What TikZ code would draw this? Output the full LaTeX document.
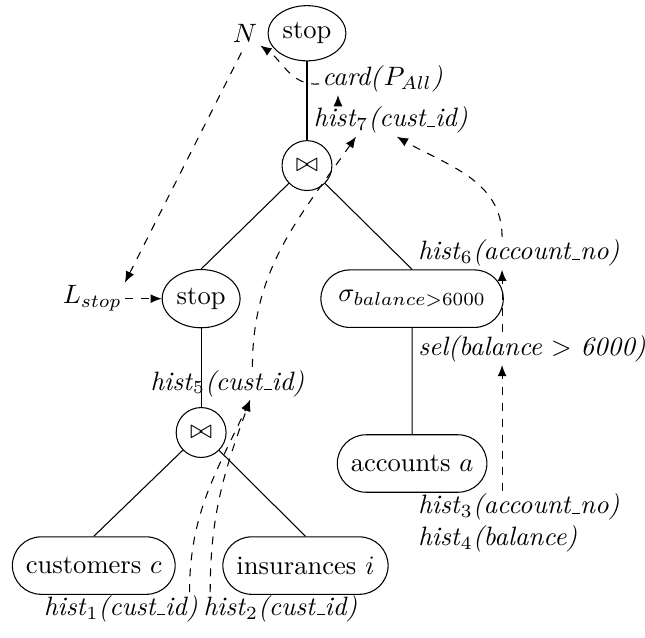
\documentclass[tikz,border=0pt]{standalone}
\usepackage{amsmath,amssymb}
\usetikzlibrary{shapes,arrows,arrows.meta,positioning,calc}
\newcommand{\uscore}{\kern.06em\vbox{\hrule width.3em}}

\begin{document}
\begin{tikzpicture}[
    op/.style={draw=black, ellipse, minimum width=1.03cm, minimum height=0.73cm, inner sep=1pt},
    joinop/.style={draw=black, circle, minimum size=0.66cm, inner sep=0pt},
    rel/.style={draw=black, rounded rectangle, minimum height=0.76cm, inner xsep=4.6pt},
    stat/.style={inner sep=1pt, anchor=west},
    flow/.style={draw=black, dashed, ->, >={Latex[length=4.2pt,width=3.4pt]}}
]
\useasboundingbox (0,0) rectangle (8.53,8.43);

\node[op] (stop) at (4.06,7.99) {stop};
\node[inner sep=1pt] (N) at (3.24,7.99) {$N$};
\node[joinop] (join) at (4.06,6.24) {$\bowtie$};
\node[op, minimum height=0.77cm] (stopl) at (2.66,4.48) {stop};
\node[rel, inner xsep=6.1pt] (sigma) at (5.45,4.48) {$\sigma_{balance>6000}$};
\node[inner sep=1pt] (Lstop) at (1.22,4.48) {$L_{stop}$};
\node[joinop] (joinl) at (2.66,2.71) {$\bowtie$};
\node[rel] (acc) at (5.45,2.30) {accounts $a$};
\node[rel] (cust) at (1.24,0.95) {customers $c$};
\node[rel] (ins) at (4.04,0.95) {insurances $i$};

\node[stat] (card) at (4.22,7.39) {\textit{card(}$P_{All}$\textit{)}};
\node[stat] (h7) at (4.11,6.84) {\textit{hist}$_7$\textit{(cust\uscore id)}};
\node[stat] (h6) at (5.49,5.08) {\textit{hist}$_6$\textit{(account\uscore no)}};
\node[stat] (selb) at (5.49,3.82) {\textit{sel(balance} $>$ \textit{6000)}};
\node[stat] (h5) at (1.95,3.36) {\textit{hist}$_5$\textit{(cust\uscore id)}};
\node[stat, align=left] (h34) at (5.49,1.51) {\textit{hist}$_3$\textit{(account\uscore no)}\\ \textit{hist}$_4$\textit{(balance)}};
\node[stat] (h1) at (0.54,0.38) {\textit{hist}$_1$\textit{(cust\uscore id)}};
\node[stat] (h2) at (2.65,0.38) {\textit{hist}$_2$\textit{(cust\uscore id)}};

\draw (stop) -- (join);
\draw (join) -- (stopl.north);
\draw (join) -- (sigma.north);
\draw (stopl) -- (joinl);
\draw (sigma) -- (acc);
\draw (joinl) -- (cust.north);
\draw (joinl) -- (ins.north);

\draw[flow] ([xshift=-0.15cm]h1.north east) to[out=90,in=245] ([xshift=0.3cm]h5.south);
\draw[flow] ([xshift=0.13cm]h2.north west) to[out=90,in=250] ([xshift=0.3cm]h5.south);
\draw[flow] ([xshift=0.33cm]h5.north) to[out=90,in=235] ([xshift=-0.46cm]h7.south);
\draw[flow] ([xshift=1.15cm]h6.north west) to[out=90,in=-30] ([xshift=0.08cm]h7.south);
\draw[flow] ([xshift=1.15cm]h34.north west) -- ([xshift=1.15cm]selb.south west);
\draw[flow] ([xshift=1.15cm]selb.north west) -- ([xshift=1.15cm]h6.south west);
\draw[flow] ([xshift=0.36cm]h7.north west) -- ([xshift=0.25cm]card.south west);
\draw[flow] ([yshift=-2pt]card.west) to[out=185,in=-35] (N.south east);
\draw[flow, shorten <=3pt] (N.south) -- (Lstop.north east);
\draw[flow] (Lstop) -- (stopl);

\end{tikzpicture}
\end{document}
